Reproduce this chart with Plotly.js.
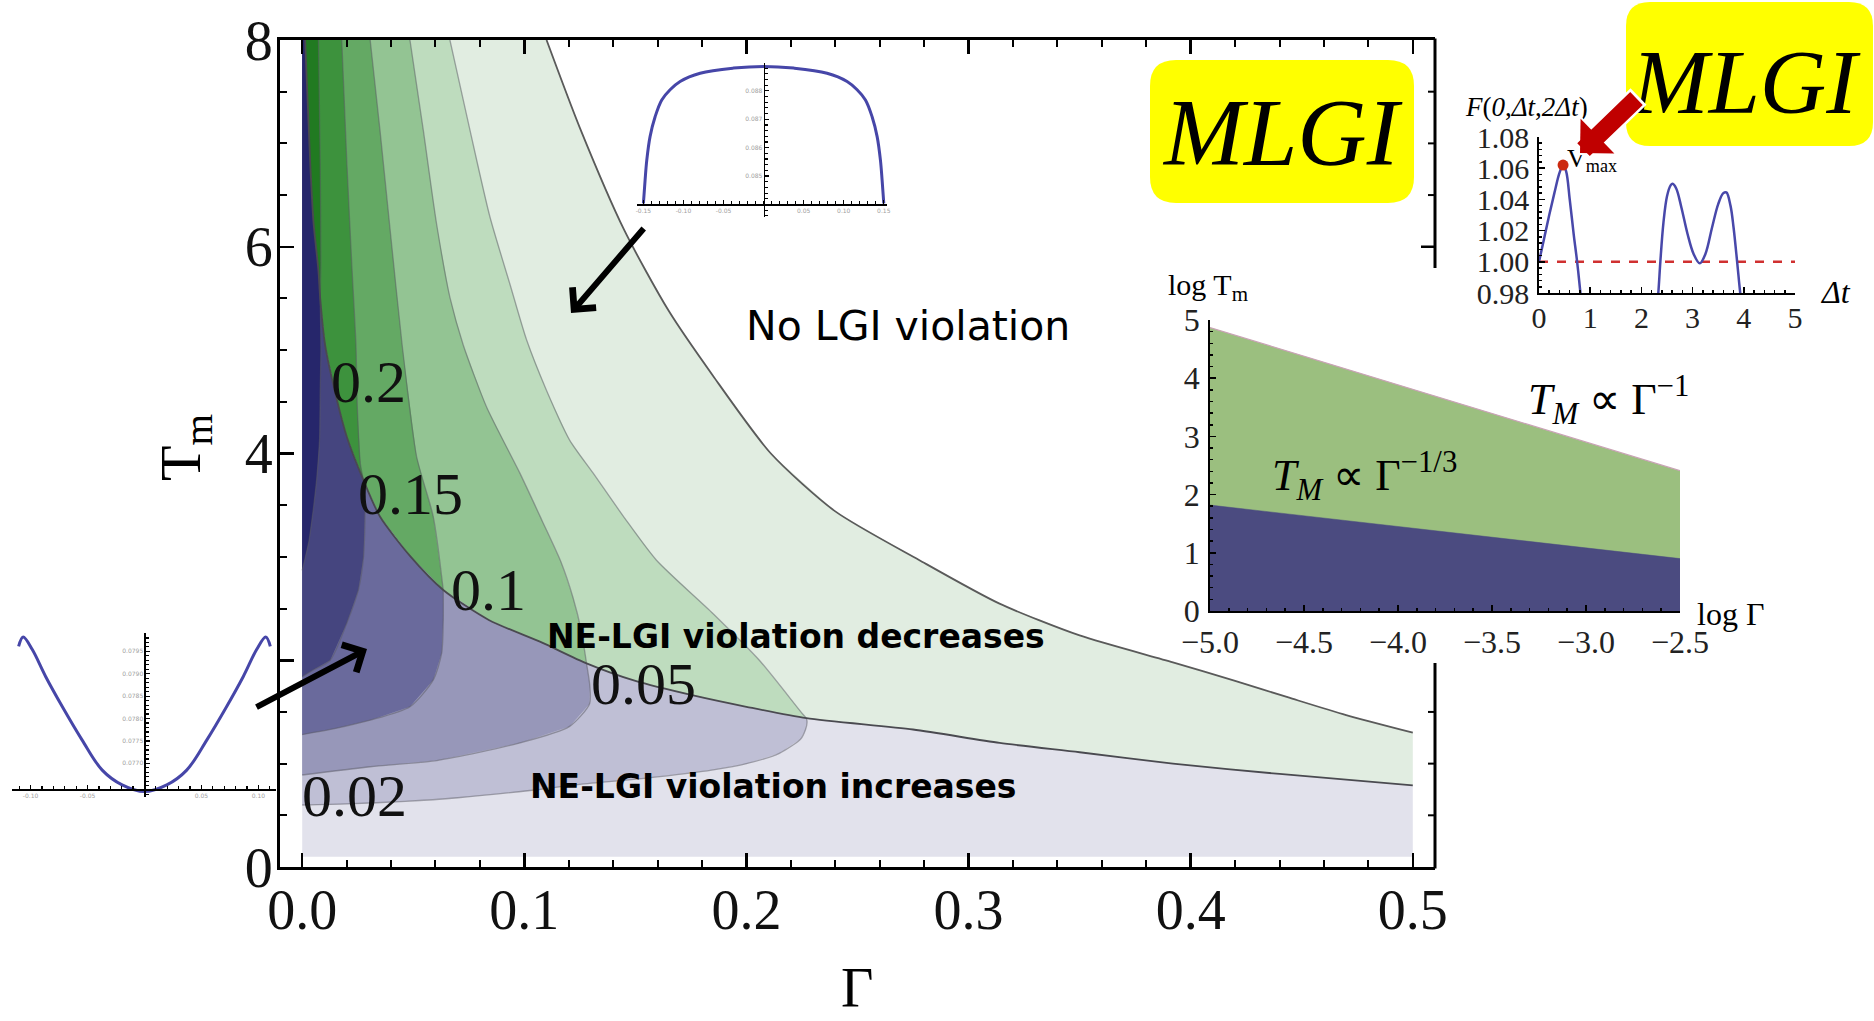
<!DOCTYPE html>
<html><head><meta charset="utf-8">
<script src="https://cdn.plot.ly/plotly-3.0.1.min.js"></script>
<style>html,body{margin:0;padding:0;background:#fff}#chart{width:1874px;height:1021px}</style>
</head><body><div id="chart"></div>
<script>
// ===== Main contour plot data (Gamma, T_m) =====
const boundaryG = [0.0013,0.0036,0.0051,0.0073,0.0081,0.0103,0.0156,0.0201,0.0276,0.035,0.0485,0.0635,0.084,0.108,0.128,0.150,0.176,0.200,0.227,0.275,0.314,0.350,0.392,0.440,0.500];
const boundaryT = [8.00,6.81,6.23,5.77,5.50,5.05,4.52,4.16,3.74,3.39,3.01,2.68,2.39,2.17,1.97,1.80,1.66,1.55,1.44,1.33,1.20,1.11,1.00,0.90,0.79];
const outerG = [0.110,0.125,0.145,0.165,0.185,0.211,0.240,0.2777,0.3137,0.350,0.392,0.420,0.444,0.470,0.500];
const outerT = [8.00,7.15,6.16,5.38,4.75,4.00,3.44,2.97,2.55,2.24,1.98,1.80,1.64,1.47,1.30];
// green-side contour lines (start at boundary junction, end at top)
const green20G = [0.0081,0.0084,0.0081,0.0073];
const green20T = [5.50,5.84,6.81,8.00];
const green15G = [0.0276,0.0262,0.0248,0.0242,0.0223,0.0201,0.0178];
const green15T = [3.74,3.90,4.45,5.05,5.84,6.81,8.00];
const green10G = [0.0635,0.059,0.0515,0.045,0.0396,0.035,0.0306];
const green10T = [2.68,3.39,3.97,5.05,6.16,7.13,8.00];
const green05G = [0.128,0.1255,0.122,0.1165,0.108,0.098,0.083,0.0725,0.0665,0.0605,0.0545,0.0485];
const green05T = [1.97,2.30,2.60,2.95,3.35,3.81,4.45,5.05,5.51,6.22,7.13,8.00];
const green02G = [0.227,0.2253,0.2058,0.185,0.1594,0.145,0.131,0.1204,0.110,0.101,0.0935,0.0845,0.0755,0.0665];
const green02T = [1.44,1.48,2.00,2.45,2.97,3.38,3.81,4.13,4.61,5.10,5.64,6.29,7.13,8.00];
// blue-side contour lines (start at boundary junction, end at Gamma = 0)
const blue20G = [0.0081,0.0084,0.0081,0.0078,0.0065,0.0051,0.003,0];
const blue20T = [5.50,5.00,4.60,4.13,3.75,3.48,3.15,2.87];
const blue15G = [0.0276,0.0283,0.0276,0.0253,0.0201,0.0126,0.0045,0];
const blue15T = [3.74,3.48,3.00,2.68,2.36,2.00,1.90,1.84];
const blue10G = [0.0635,0.0635,0.0628,0.059,0.0485,0.0306,0.015,0];
const blue10T = [2.68,2.39,2.07,1.81,1.55,1.42,1.34,1.28];
const blue05G = [0.128,0.1295,0.1294,0.1204,0.098,0.0606,0.0306,0];
const blue05T = [1.97,1.75,1.58,1.36,1.20,1.03,0.97,0.89];
const blue02G = [0.227,0.2273,0.2266,0.2245,0.2148,0.200,0.185,0.155,0.125,0.1025,0.070,0.0464,0.020,0];
const blue02T = [1.44,1.40,1.33,1.24,1.10,1.00,0.94,0.86,0.80,0.74,0.67,0.635,0.61,0.60];
const gammaMax = 0.5, tMin = 0.1, tMax = 8;
const contourLabels = ['0.2','0.15','0.1','0.05','0.02'];
const xTickVals = [0,0.1,0.2,0.3,0.4,0.5];
const xTickLabels = ['0.0','0.1','0.2','0.3','0.4','0.5'];
const yTickVals = [0,2,4,6,8];
const yTickLabels = ['0','','4','6','8'];   // "2" is hidden behind the left inset

// ===== Inset: plateau curve (top) =====
const plateauX = [-0.150,-0.1479,-0.1458,-0.1417,-0.1354,-0.1271,-0.1167,-0.1042,-0.0792,-0.0375,0,0.0375,0.0792,0.1042,0.1167,0.1271,0.1354,0.1417,0.1458,0.1479,0.150];
const plateauY = [0.08404,0.08486,0.08556,0.08639,0.08709,0.08768,0.08804,0.08833,0.08862,0.0888,0.08886,0.0888,0.08862,0.08833,0.08804,0.08768,0.08709,0.08639,0.08556,0.08486,0.08404];
const plateauXTicks = [-0.15,-0.10,-0.05,0.05,0.10,0.15];
const plateauXText = ['-0.15','-0.10','-0.05','0.05','0.10','0.15'];
const plateauYTicks = [0.085,0.086,0.087,0.088,0.089];
// ===== Inset: well curve (left) =====
const wellX = [-0.1105,-0.1065,-0.0985,-0.0868,-0.0722,-0.0547,-0.0371,-0.0196,0,0.0196,0.0371,0.0547,0.0722,0.0868,0.0985,0.1065,0.1105];
const wellY = [0.07961,0.07982,0.07954,0.07894,0.07827,0.07752,0.07685,0.07652,0.07637,0.07652,0.07685,0.07752,0.07827,0.07894,0.07954,0.07982,0.07961];
const wellXTicks = [-0.10,-0.05,0.05,0.10];
const wellXText = ['-0.10','-0.05','0.05','0.10'];
const wellYTicks = [0.0770,0.0775,0.0780,0.0785,0.0790,0.0795];
// ===== Inset: F(0,dt,2dt) =====
const fDt = [0,0.1,0.2,0.3,0.4,0.47,0.53,0.6,0.68,0.745,0.8,0.84,null,2.30,2.33,2.37,2.43,2.50,2.57,2.61,2.68,2.78,2.90,3.02,3.14,3.25,3.38,3.50,3.60,3.66,3.74,3.80,3.87,3.93,3.97];
const fVal = [1.000,1.015,1.030,1.044,1.057,1.062,1.058,1.040,1.017,1.000,0.983,0.970,null,0.970,0.980,1.000,1.025,1.042,1.049,1.050,1.047,1.035,1.018,1.005,0.999,1.005,1.022,1.037,1.044,1.0445,1.036,1.022,1.000,0.980,0.970];
const fClassical = 1.0;
const fMaxDt = [0.47], fMaxVal = [1.062];
// ===== Inset: log-log phase diagram =====
const logGamma = [-5.0,-2.5];
const logTUpper = [4.87,2.41];
const logTLower = [1.82,0.90];

// ===== helpers =====
const W = 1874, H = 1021;
const px = x => x / W, py = y => 1 - y / H;
const SERIF = 'Liberation Serif, Times New Roman, serif';
const SANS = 'DejaVu Sans, Verdana, sans-serif';
const rev = a => a.slice().reverse();
function junction(g, t) {
  return boundaryG.findIndex((v, i) => v === g && boundaryT[i] === t);
}
function greenBand(cg, ct) {
  const j = junction(cg[0], ct[0]);
  return {x: boundaryG.slice(0, j + 1).concat(cg.slice(1)), y: boundaryT.slice(0, j + 1).concat(ct.slice(1))};
}
function blueBand(cg, ct) {
  const j = junction(cg[0], ct[0]);
  return {x: [0].concat(boundaryG.slice(0, j + 1), cg.slice(1)), y: [tMax].concat(boundaryT.slice(0, j + 1), ct.slice(1))};
}
const traces = [];
function poly(p, color) {
  traces.push({type:'scatter', mode:'none', x:p.x, y:p.y, fill:'toself', fillcolor:color, hoverinfo:'skip', xaxis:'x', yaxis:'y'});
}
function line(x, y, color, width) {
  traces.push({type:'scatter', mode:'lines', x:x, y:y, line:{color:color, width:width, shape:'spline', smoothing:0.7}, hoverinfo:'skip', xaxis:'x', yaxis:'y'});
}
// base regions
poly({x:[0,0,gammaMax].concat(rev(boundaryG)), y:[tMax,tMin,tMin].concat(rev(boundaryT))}, '#e2e2ec');
poly({x:boundaryG.concat(rev(outerG)), y:boundaryT.concat(rev(outerT))}, '#e1ede1');
// bands
poly(greenBand(green02G, green02T), '#bedcbe');
poly(greenBand(green05G, green05T), '#93c493');
poly(greenBand(green10G, green10T), '#64a964');
poly(greenBand(green15G, green15T), '#3d923d');
poly(greenBand(green20G, green20T), '#217a21');
poly(blueBand(blue02G, blue02T), '#bfbfd5');
poly(blueBand(blue05G, blue05T), '#9797b9');
poly(blueBand(blue10G, blue10T), '#6a6a9c');
poly(blueBand(blue15G, blue15T), '#45457f');
poly(blueBand(blue20G, blue20T), '#26266b');
// contour lines
const cl = 'rgba(90,90,100,0.5)';
[[green02G,green02T],[green05G,green05T],[green10G,green10T],[green15G,green15T],[green20G,green20T],
 [blue02G,blue02T],[blue05G,blue05T],[blue10G,blue10T],[blue15G,blue15T],[blue20G,blue20T]].forEach(c => line(c[0], c[1], cl, 1.3));
line(boundaryG, boundaryT, '#4a4a50', 1.8);
line(outerG, outerT, '#5a5a5a', 1.8);

// insets
traces.push({type:'scatter', mode:'lines', x:plateauX, y:plateauY, line:{color:'#4646a8', width:3, shape:'spline'}, xaxis:'x2', yaxis:'y2', hoverinfo:'skip'});
traces.push({type:'scatter', mode:'lines', x:wellX, y:wellY, line:{color:'#4646a8', width:3, shape:'spline'}, xaxis:'x3', yaxis:'y3', hoverinfo:'skip'});
traces.push({type:'scatter', mode:'lines', x:[0,5], y:[fClassical,fClassical], line:{color:'#d03030', width:2.5, dash:'dash'}, xaxis:'x4', yaxis:'y4', hoverinfo:'skip'});
traces.push({type:'scatter', mode:'lines', x:fDt, y:fVal, connectgaps:false, line:{color:'#4848aa', width:2.5, shape:'spline'}, xaxis:'x4', yaxis:'y4', hoverinfo:'skip'});
traces.push({type:'scatter', mode:'markers', x:fMaxDt, y:fMaxVal, marker:{color:'#cc2a10', size:11}, xaxis:'x4', yaxis:'y4', hoverinfo:'skip', cliponaxis:false});
traces.push({type:'scatter', mode:'lines', x:logGamma, y:logTUpper, fill:'tozeroy', fillcolor:'#9bbf7f', line:{color:'#c9a3b5', width:1.2}, xaxis:'x5', yaxis:'y5', hoverinfo:'skip'});
traces.push({type:'scatter', mode:'lines', x:logGamma, y:logTLower, fill:'tozeroy', fillcolor:'#4b4b80', line:{color:'#4b4b80', width:0.5}, xaxis:'x5', yaxis:'y5', hoverinfo:'skip'});

// axis domains
const d2x = [px(637), px(887)], d2y = [py(217), py(63)], r2x = [-0.158, 0.154], r2y = [0.08356, 0.08898];
const d3x = [px(12), px(276)], d3y = [py(797), py(633)], r3x = [-0.1163, 0.1155], r3y = [0.07625, 0.07991];
const pos = (d, r, v) => d[0] + (v - r[0]) / (r[1] - r[0]) * (d[1] - d[0]);
const tinyAxis = {showgrid:false, zeroline:false, showline:true, linecolor:'#000', linewidth:1.6, ticks:'inside', ticklen:4, tickwidth:1.2, tickcolor:'#000', tickfont:{family:SANS, size:6, color:'#a0a0a0'}, fixedrange:true};
const insetAxis = {showgrid:false, zeroline:false, showline:true, linecolor:'#000', linewidth:1.8, ticks:'inside', ticklen:6, tickwidth:1.5, tickcolor:'#000', tickfont:{family:SERIF, size:30, color:'#222'}};

function rr(x0, y0, x1, y1, r) {
  const P = (x, y) => px(x) + ',' + py(y);
  return 'M' + P(x0 + r, y0) + 'L' + P(x1 - r, y0) + 'Q' + P(x1, y0) + ' ' + P(x1, y0 + r) + 'L' + P(x1, y1 - r) +
    'Q' + P(x1, y1) + ' ' + P(x1 - r, y1) + 'L' + P(x0 + r, y1) + 'Q' + P(x0, y1) + ' ' + P(x0, y1 - r) +
    'L' + P(x0, y0 + r) + 'Q' + P(x0, y0) + ' ' + P(x0 + r, y0) + 'Z';
}
const shapes = [
  {type:'path', xref:'paper', yref:'paper', path:rr(1150, 60, 1414, 203, 26), fillcolor:'#ffff00', line:{width:0}, layer:'above'},
  {type:'path', xref:'paper', yref:'paper', path:rr(1626, 2, 1873, 146, 24), fillcolor:'#ffff00', line:{width:0}, layer:'above'},
  {type:'line', xref:'paper', yref:'paper', x0:px(1435), x1:px(1435), y0:py(38.5), y1:py(268), line:{color:'#000', width:3}},
  {type:'line', xref:'paper', yref:'paper', x0:px(1435), x1:px(1435), y0:py(663), y1:py(868.5), line:{color:'#000', width:3}}
];
// right-hand mirrored ticks (hidden where the log-log inset sits)
for (let v = 0.5; v < 8; v += 0.5) {
  if (v > 1.97 && v < 5.79) continue;
  const major = Math.abs(v % 2) < 1e-9;
  shapes.push({type:'line', xref:'paper', yref:'y', x0:px(1435), x1:px(1435 - (major ? 14 : 7)), y0:v, y1:v, line:{color:'#000', width:major ? 2.5 : 2}});
}

const anns = [];
function ann(text, x, y, size, family, extra) {
  anns.push(Object.assign({text:text, xref:'paper', yref:'paper', x:px(x), y:py(y), xanchor:'center', yanchor:'middle', showarrow:false, font:{family:family, size:size, color:'#000'}}, extra || {}));
}
// contour labels
const labelPos = [[368,382],[410,494],[488,590],[643,684],[354,796]];
contourLabels.forEach((t, i) => ann(t, labelPos[i][0], labelPos[i][1], 60, SERIF, {font:{family:SERIF, size:60, color:'#111'}}));
ann('No LGI violation', 908, 326, 41, SANS);
ann('<b>NE-LGI violation decreases</b>', 796, 636, 33, SANS);
ann('<b>NE-LGI violation increases</b>', 773, 786, 33, SANS);
ann('Γ', 857, 988, 56, SERIF);
ann('T<sub>m</sub>', 184, 448, 58, SERIF, {textangle:-90});
ann('<i>MLGI</i>', 1282, 133, 96, SERIF);
ann('<i>MLGI</i>', 1745, 82, 92, SERIF);
ann('log T<sub>m</sub>', 1208, 287, 30, SERIF);
ann('log Γ', 1730, 614, 32, SERIF);
ann('<i>T</i><sub><i>M</i></sub> ∝ Γ<sup>−1</sup>', 1608, 400, 44, SERIF);
ann('<i>T</i><sub><i>M</i></sub> ∝ Γ<sup>−1/3</sup>', 1364, 476, 44, SERIF);
ann('<i>Δt</i>', 1835, 292, 32, SERIF);
ann('<i>F</i>(<i>0</i>,<i>Δt</i>,<i>2Δt</i>)', 1463, 107, 27, SERIF, {xanchor:'left'});
ann('V<sub>max</sub>', 1565, 160, 26, SERIF, {xanchor:'left'});
// black arrows
anns.push({text:'', xref:'paper', yref:'paper', x:px(571), y:py(313), ax:74, ay:-86, showarrow:true, arrowhead:4, arrowsize:1, arrowwidth:6, arrowcolor:'#000', standoff:0});
anns.push({text:'', xref:'paper', yref:'paper', x:px(367), y:py(649), ax:-112, ay:59, showarrow:true, arrowhead:4, arrowsize:1, arrowwidth:6, arrowcolor:'#000', standoff:0});
// red arrow with white outline
anns.push({text:'', xref:'paper', yref:'paper', x:px(1578), y:py(155), ax:62, ay:-60, showarrow:true, arrowhead:1, arrowsize:0.42, arrowwidth:23, arrowcolor:'#ffffff', standoff:0});
anns.push({text:'', xref:'paper', yref:'paper', x:px(1580), y:py(153), ax:58, ay:-56, showarrow:true, arrowhead:1, arrowsize:0.45, arrowwidth:18, arrowcolor:'#c00000', standoff:0});

const layout = {
  width:W, height:H, margin:{l:0, r:0, t:0, b:0}, paper_bgcolor:'#ffffff', plot_bgcolor:'rgba(0,0,0,0)', showlegend:false,
  xaxis:{domain:[px(280), px(1435)], range:[-0.01, 0.51], tickvals:xTickVals, ticktext:xTickLabels,
    showgrid:false, zeroline:false, showline:true, linecolor:'#000', linewidth:3, mirror:'ticks',
    ticks:'inside', ticklen:14, tickwidth:2.5, tickcolor:'#000', ticklabelstandoff:-8,
    minor:{dtick:0.02, tick0:0, ticks:'inside', ticklen:7, tickwidth:2, tickcolor:'#000', showgrid:false},
    tickfont:{family:SERIF, size:56, color:'#111'}, anchor:'y', fixedrange:true},
  yaxis:{domain:[py(867), py(40)], range:[0, 8], tickvals:yTickVals, ticktext:yTickLabels, showgrid:false, zeroline:false, showline:true, linecolor:'#000', linewidth:3,
    ticks:'inside', ticklen:14, tickwidth:2.5, tickcolor:'#000', ticklabelstandoff:-7,
    minor:{dtick:0.5, ticks:'inside', ticklen:7, tickwidth:2, tickcolor:'#000', showgrid:false},
    tickfont:{family:SERIF, size:56, color:'#111'}, anchor:'x', fixedrange:true},
  xaxis2:Object.assign({}, tinyAxis, {domain:d2x, range:r2x, anchor:'free', position:pos(d2y, r2y, 0.084), tickvals:plateauXTicks, ticktext:plateauXText,
    minor:{dtick:0.01, tick0:0, ticks:'inside', ticklen:3, tickcolor:'#000'}}),
  yaxis2:Object.assign({}, tinyAxis, {domain:d2y, range:r2y, anchor:'free', position:pos(d2x, r2x, 0), tickvals:plateauYTicks, tickformat:'.3f',
    minor:{dtick:0.0002, tick0:0, ticks:'inside', ticklen:3, tickcolor:'#000'}}),
  xaxis3:Object.assign({}, tinyAxis, {domain:d3x, range:r3x, anchor:'free', position:pos(d3y, r3y, 0.07643), tickvals:wellXTicks, ticktext:wellXText,
    minor:{dtick:0.01, tick0:0, ticks:'inside', ticklen:3, tickcolor:'#000'}}),
  yaxis3:Object.assign({}, tinyAxis, {domain:d3y, range:r3y, anchor:'free', position:pos(d3x, r3x, 0), tickvals:wellYTicks, tickformat:'.4f',
    minor:{dtick:0.0001, tick0:0, ticks:'inside', ticklen:3, tickcolor:'#000'}}),
  xaxis4:Object.assign({}, insetAxis, {domain:[px(1539), px(1795)], range:[0, 5], dtick:1, anchor:'y4', ticklabelstandoff:-3,
    minor:{dtick:0.2, ticks:'inside', ticklen:3, tickcolor:'#000'}}),
  yaxis4:Object.assign({}, insetAxis, {domain:[py(293), py(137)], range:[0.98, 1.08], dtick:0.02, tick0:0.98, tickformat:'.2f', anchor:'x4', ticklabelstandoff:2,
    minor:{dtick:0.004, tick0:0.98, ticks:'inside', ticklen:3, tickcolor:'#000'}}),
  xaxis5:Object.assign({}, insetAxis, {domain:[px(1210), px(1680)], range:[-5, -2.5], dtick:0.5, tick0:-5, tickformat:'.1f', anchor:'y5', ticklabelstandoff:2,
    tickfont:{family:SERIF, size:32, color:'#222'}, minor:{dtick:0.1, ticks:'inside', ticklen:3, tickcolor:'#000'}}),
  yaxis5:Object.assign({}, insetAxis, {domain:[py(611), py(320)], range:[0, 5], dtick:1, anchor:'x5', ticklabelstandoff:2,
    tickfont:{family:SERIF, size:32, color:'#222'}, minor:{dtick:0.2, ticks:'inside', ticklen:3, tickcolor:'#000'}}),
  shapes:shapes,
  annotations:anns
};
Plotly.newPlot('chart', traces, layout, {staticPlot:true, displayModeBar:false});
</script>
</body></html>
